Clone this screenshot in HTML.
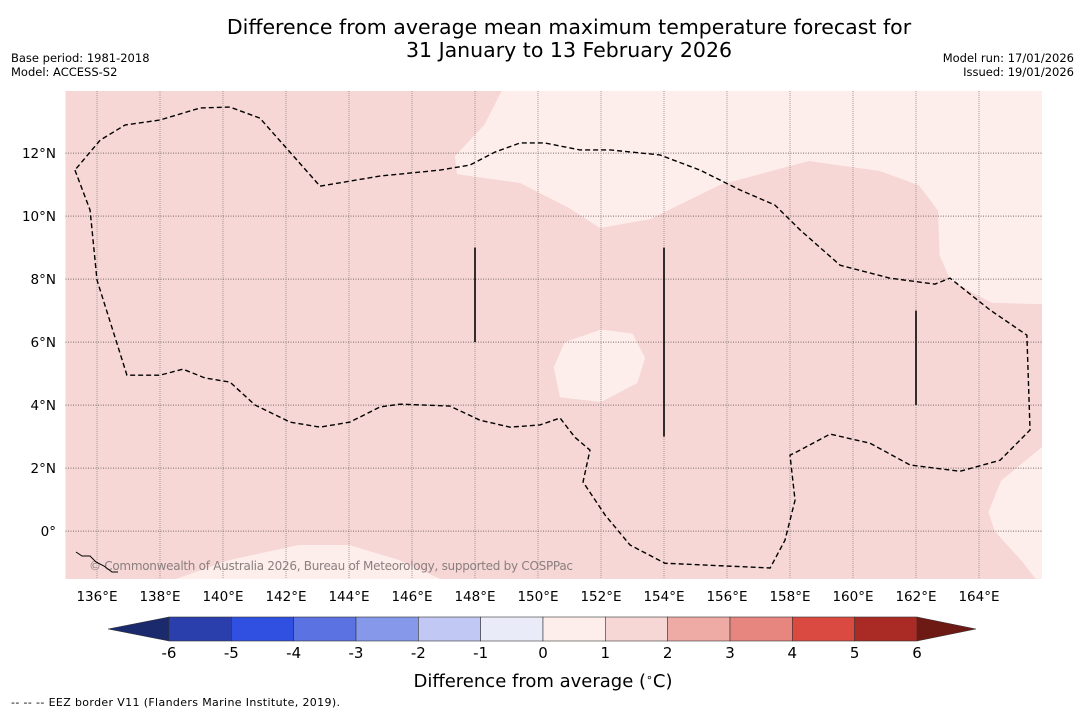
<!DOCTYPE html>
<html><head><meta charset="utf-8"><style>
body{margin:0;background:#fff;width:1085px;height:713px;overflow:hidden;font-family:"DejaVu Sans","Liberation Sans",sans-serif}
svg{position:absolute;left:0;top:0}
</style></head><body>
<svg id="c" width="1085" height="713">
<text x="569" y="34" text-anchor="middle" font-size="20.5">Difference from average mean maximum temperature forecast for</text>
<text x="569" y="57" text-anchor="middle" font-size="20.5">31 January to 13 February 2026</text>
<text x="11" y="62" font-size="11.5">Base period: 1981-2018</text>
<text x="11" y="76" font-size="11.5">Model: ACCESS-S2</text>
<text x="1074" y="62" font-size="11.5" text-anchor="end">Model run: 17/01/2026</text>
<text x="1074" y="76" font-size="11.5" text-anchor="end">Issued: 19/01/2026</text>
<g id="map"></g>
<g id="cbar"></g>
<text x="543" y="687" text-anchor="middle" font-size="18">Difference from average (<tspan baseline-shift="super" font-size="11">∘</tspan>C)</text>
<text x="11" y="706" font-size="11" textLength="329">--  --  -- EEZ border V11 (Flanders Marine Institute, 2019).</text>
</svg>
<script>
const NS="http://www.w3.org/2000/svg";
const lonTicks=[136,138,140,142,144,146,148,150,152,154,156,158,160,162,164];
const latTicks=[0,2,4,6,8,10,12];
const levels=[-6,-5,-4,-3,-2,-1,0,1,2,3,4,5,6];
const levelColors=["#2a3fab","#2f50e0","#5a72e2","#8698ea","#c1c8f3","#e9ebf9","#fdeeec","#f6d7d5","#eeaba6","#e7857f","#da4a40","#aa2b25"];
const lowColor="#1b2a6c",highColor="#6d1a14";
const baseAnomaly=1.5;
const lightTop=[[148.86,14],[148.3,12.9],[147.36,11.9],[147.43,11.33],[149.43,11.05],[151.0,10.25],[151.97,9.62],[153.55,9.9],[155.8,11.0],[158.6,11.75],[160.85,11.43],[162.1,10.97],[162.7,10.17],[162.75,8.75],[163.1,7.95],[164.4,7.25],[166,7.2],[166,14]];
const lightCenter=[[152,6.4],[153,6.27],[153.4,5.5],[153.15,4.7],[152,4.1],[150.7,4.25],[150.5,5.2],[150.85,6.0]];
const lightRight=[[166,2.67],[164.7,1.6],[164.3,0.6],[164.5,0],[165.4,-1.0],[165.8,-1.52],[166,-1.52]];
const lightBottom=[[138.5,-1.52],[140.2,-0.92],[142.4,-0.44],[144.0,-0.44],[145.6,-0.92],[146.9,-1.52]];
const eezLon=[135.30,135.78,136.0,136.95,138.0,138.73,139.43,140.22,141.02,142.13,143.08,144.03,144.98,145.62,147.2,148.16,149.11,150.06,150.7,151.17,151.65,151.43,152.13,152.92,154.03,157.37,157.84,158.16,158.0,158.32,159.27,160.54,161.81,163.4,164.67,165.62,165.52,164.35,163.08,162.6,161.17,159.59,158.32,157.52,156.41,155.14,153.87,152.29,151.33,150.22,149.43,148.63,147.84,146.89,144.98,143.08,141.17,140.22,139.27,138.0,136.89,136.1,135.30];
const eezLat=[11.46,10.19,7.97,4.95,4.95,5.14,4.86,4.73,4.0,3.46,3.30,3.46,3.94,4.03,3.97,3.52,3.30,3.37,3.59,2.98,2.57,1.56,0.51,-0.44,-1.02,-1.17,-0.29,0.98,2.41,2.57,3.08,2.79,2.10,1.90,2.25,3.21,6.22,7.02,8.03,7.84,8.03,8.44,9.56,10.35,10.83,11.46,11.94,12.10,12.10,12.32,12.32,12.03,11.62,11.46,11.27,10.95,13.11,13.46,13.43,13.05,12.89,12.41,11.46];
const trenchLines=[[148,6,9],[154,3,9],[162,4,7]];
const X0=65.5,Y0=91,W=976.5,H=488,lon0=135,lon1=166,lat0=-1.52,lat1=13.97;
const xs=l=>X0+(l-lon0)/(lon1-lon0)*W, ys=l=>Y0+H-(l-lat0)/(lat1-lat0)*H;
function el(t,a,p){const e=document.createElementNS(NS,t);for(const k in a)e.setAttribute(k,a[k]);p.appendChild(e);return e;}
function colorFor(v){for(let i=0;i<levelColors.length;i++)if(v<levels[i+1])return levelColors[i];return highColor;}
const map=document.getElementById('map');
const bg=el('rect',{x:X0,y:Y0,width:W,height:H,fill:colorFor(baseAnomaly)},map);


const cp=el('clipPath',{id:'clp'},map);el('rect',{x:X0,y:Y0,width:W,height:H},cp);
const g=el('g',{'clip-path':'url(#clp)'},map);
[[lightTop,'anomaly-region-north'],[lightCenter,'anomaly-region-center'],[lightRight,'anomaly-region-southeast'],[lightBottom,'anomaly-region-southwest']].forEach(([pts,n])=>{
 const p=el('polygon',{points:pts.map(q=>xs(q[0])+','+ys(q[1])).join(' '),fill:colorFor(0.5),'stroke-linejoin':'round'},g);
 
 
});
lonTicks.forEach(l=>{
 const ln=el('line',{x1:xs(l),x2:xs(l),y1:Y0,y2:Y0+H,stroke:'#a89a9a','stroke-width':1,'stroke-dasharray':'1,1'},g);
 
 
 const t=el('text',{x:xs(l),y:601,'text-anchor':'middle','font-size':13.5},map);t.textContent=l+'°E';
 
 
});
latTicks.forEach(l=>{
 const ln=el('line',{x1:X0,x2:X0+W,y1:ys(l),y2:ys(l),stroke:'#7a6a6a','stroke-width':1,'stroke-dasharray':'1,1.5'},g);
 
 
 const t=el('text',{x:56,y:ys(l)+5,'text-anchor':'end','font-size':13.5},map);t.textContent=l===0?'0°':l+'°N';
 
 
});
const eez=el('polyline',{points:eezLon.map((l,i)=>xs(l)+','+ys(eezLat[i])).join(' '),fill:'none',stroke:'#000','stroke-width':1.4,'stroke-dasharray':'5,3'},g);


trenchLines.forEach(t=>{
 const ln=el('line',{x1:xs(t[0]),x2:xs(t[0]),y1:ys(t[1]),y2:ys(t[2]),stroke:'#000','stroke-width':1.6},g);
 
 
});
const cr=el('text',{x:89,y:570,'font-size':12,fill:'#8a7f7f',textLength:484},g);cr.textContent='© Commonwealth of Australia 2026, Bureau of Meteorology, supported by COSPPac';


const isl=el('path',{d:'M76,552 l6,4 l8,0 l6,6 l8,4 l8,6 l6,0',fill:'none',stroke:'#000','stroke-width':1},g);


const cb=document.getElementById('cbar');
const cx0=169,cx1=917,cy=617,ch=24,sw=(cx1-cx0)/levelColors.length;
const lo=el('polygon',{points:`${cx0},${cy} 108,${cy+ch/2} ${cx0},${cy+ch}`,fill:lowColor,stroke:'#333','stroke-width':0.5},cb);


const hi=el('polygon',{points:`${cx1},${cy} 976,${cy+ch/2} ${cx1},${cy+ch}`,fill:highColor,stroke:'#333','stroke-width':0.5},cb);


levelColors.forEach((c,i)=>{
 const r=el('rect',{x:cx0+i*sw,y:cy,width:sw,height:ch,fill:c,stroke:'#333','stroke-width':0.6},cb);
 
 
});
levels.forEach((v,i)=>{
 const t=el('text',{x:cx0+i*sw,y:658,'text-anchor':'middle','font-size':15},cb);t.textContent=v;
 
 
});
</script>
</body></html>
